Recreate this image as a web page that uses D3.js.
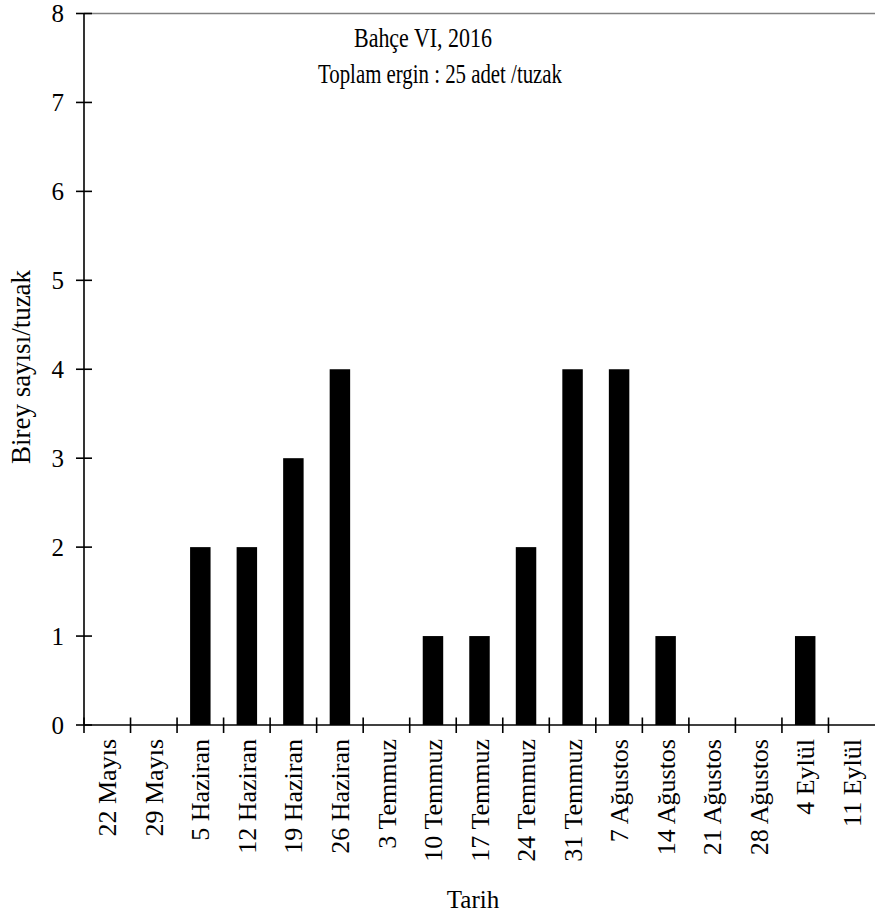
<!DOCTYPE html>
<html>
<head>
<meta charset="utf-8">
<script src="https://cdn.jsdelivr.net/npm/d3@7"></script>
<style>
  html, body { margin: 0; padding: 0; background: #fff; }
  svg text { font-family: "Liberation Serif", "Times New Roman", serif; fill: #000; }
</style>
</head>
<body>
<svg id="chart" width="875" height="920"></svg>
<script>
const categories = ["22 Mayıs", "29 Mayıs", "5 Haziran", "12 Haziran", "19 Haziran", "26 Haziran",
  "3 Temmuz", "10 Temmuz", "17 Temmuz", "24 Temmuz", "31 Temmuz", "7 Ağustos", "14 Ağustos",
  "21 Ağustos", "28 Ağustos", "4 Eylül", "11 Eylül"];
const values = [0, 0, 2, 2, 3, 4, 0, 1, 1, 2, 4, 4, 1, 0, 0, 1, 0];
const yTicks = [0, 1, 2, 3, 4, 5, 6, 7, 8];
const titleLines = ["Bahçe VI, 2016", "Toplam ergin : 25 adet /tuzak"];
const yLabel = "Birey sayısı/tuzak";
const xLabel = "Tarih";

const svg = d3.select("#chart");
const plotLeft = 84, plotRight = 875, plotTop = 13.5, plotBottom = 725;

const x = d3.scaleBand().domain(categories).range([plotLeft, plotRight]).paddingInner(0.56).paddingOuter(0.28);
const y = d3.scaleLinear().domain([0, 8]).range([plotBottom, plotTop]);

// top border (gray)
svg.append("line").attr("x1", plotLeft).attr("x2", plotRight).attr("y1", y(8)).attr("y2", y(8))
  .attr("stroke", "#808080").attr("stroke-width", 1.6);

// bars
svg.append("g").selectAll("rect").data(categories).join("rect")
  .attr("x", d => x(d))
  .attr("width", x.bandwidth())
  .attr("y", (d, i) => y(values[i]))
  .attr("height", (d, i) => y(0) - y(values[i]))
  .attr("fill", "#000");

// y axis
svg.append("line").attr("x1", plotLeft).attr("x2", plotLeft).attr("y1", y(8)).attr("y2", y(0))
  .attr("stroke", "#000").attr("stroke-width", 1.6);
const yg = svg.append("g");
yg.selectAll("line").data(yTicks).join("line")
  .attr("x1", plotLeft - 8).attr("x2", plotLeft + 8)
  .attr("y1", d => y(d)).attr("y2", d => y(d))
  .attr("stroke", "#000").attr("stroke-width", 1.6);
yg.selectAll("text").data(yTicks).join("text")
  .attr("x", 64).attr("y", d => y(d)).attr("dy", "0.35em")
  .attr("text-anchor", "end").attr("font-size", 25)
  .text(d => d);

// x axis
svg.append("line").attr("x1", plotLeft).attr("x2", plotRight).attr("y1", y(0)).attr("y2", y(0))
  .attr("stroke", "#000").attr("stroke-width", 1.6);
const xg = svg.append("g");
xg.selectAll("line").data(categories).join("line")
  .attr("x1", d => x(d) + x.bandwidth() / 2 - x.step() / 2)
  .attr("x2", d => x(d) + x.bandwidth() / 2 - x.step() / 2)
  .attr("y1", y(0) - 7.5).attr("y2", y(0) + 8)
  .attr("stroke", "#000").attr("stroke-width", 1.6);
xg.selectAll("text").data(categories).join("text")
  .attr("transform", d => `translate(${x(d) + x.bandwidth() / 2},${y(0) + 14}) rotate(-90)`)
  .attr("dy", "0.35em")
  .attr("text-anchor", "end").attr("font-size", 26)
  .text(d => d);

// title
svg.append("text").attr("x", 423).attr("y", 47).attr("text-anchor", "middle")
  .attr("font-size", 27).attr("textLength", 138).attr("lengthAdjust", "spacingAndGlyphs")
  .text(titleLines[0]);
svg.append("text").attr("x", 440).attr("y", 83).attr("text-anchor", "middle")
  .attr("font-size", 27).attr("textLength", 244).attr("lengthAdjust", "spacingAndGlyphs")
  .text(titleLines[1]);

// y label
svg.append("text").attr("transform", "translate(30,367) rotate(-90)")
  .attr("text-anchor", "middle").attr("font-size", 27)
  .text(yLabel);

// x label
svg.append("text").attr("x", 473).attr("y", 908).attr("text-anchor", "middle")
  .attr("font-size", 25).text(xLabel);
</script>
</body>
</html>
